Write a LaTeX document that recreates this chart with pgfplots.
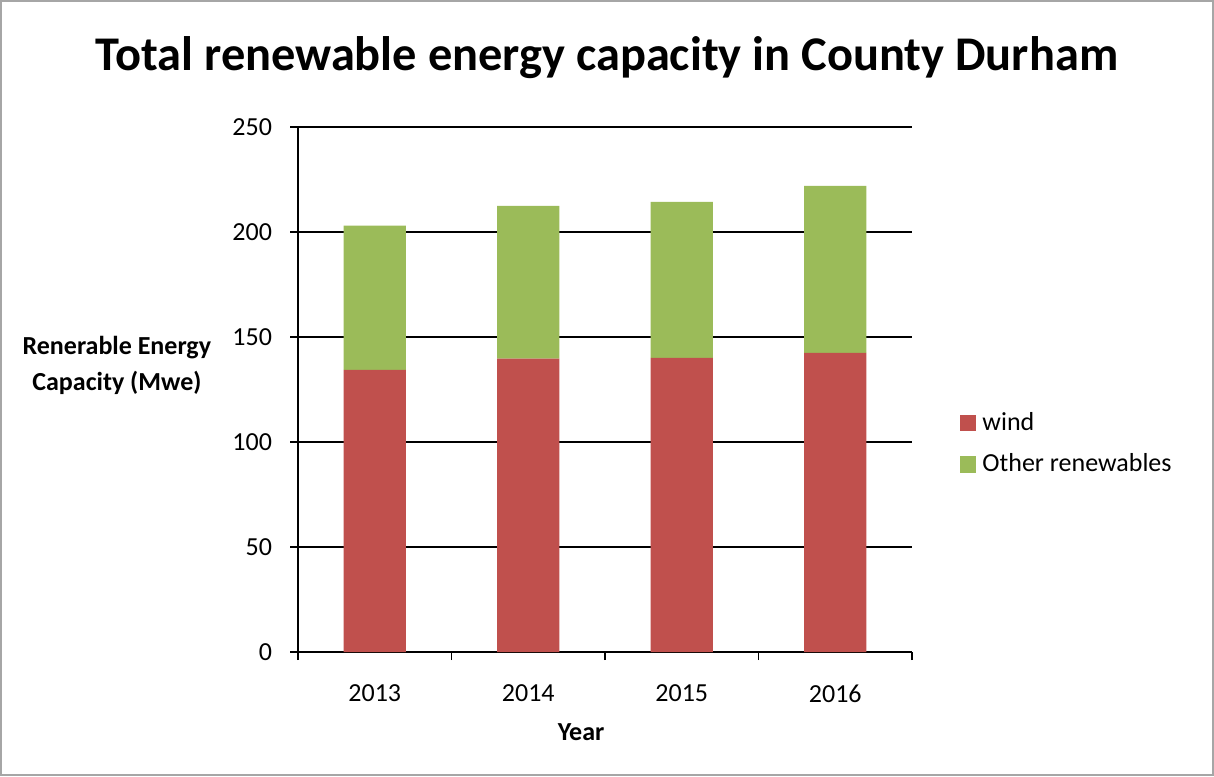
\documentclass[border=0pt]{standalone}
\usepackage{pgfplots}
\pgfplotsset{compat=1.18}
\usepackage{fontspec}
\setmainfont{Carlito}
\definecolor{windred}{HTML}{C0504D}
\definecolor{othergreen}{HTML}{9BBB59}
\begin{document}
\begin{tikzpicture}
\useasboundingbox (0,0) rectangle (607pt,388pt);
\draw[gray!70, line width=1pt] (0.5pt,0.5pt) rectangle (606.5pt,387.5pt);
\begin{axis}[
  at={(149pt,62pt)}, anchor=south west,
  scale only axis, width=307pt, height=262.5pt,
  ybar stacked, bar width=31pt,
  xmin=-0.5, xmax=3.5, ymin=0, ymax=250,
  xtick={0,1,2,3}, xticklabels={2013,2014,2015,2016},
  minor xtick={-0.5,0.5,1.5,2.5,3.5},
  ytick={0,50,100,150,200,250},
  axis x line*=bottom, axis y line*=left,
  axis line style={black, line width=0.8pt},
  tick align=outside,
  major tick length=4pt, minor tick length=4pt,
  x tick style={draw=none}, minor x tick style={draw=black, line width=0.8pt},
  y tick style={black, line width=0.8pt},
  ymajorgrids, grid style={black, line width=0.8pt},
  tick label style={font=\fontsize{13}{15}\selectfont},
  /pgf/number format/assume math mode=true,
  xticklabel style={yshift=-9pt},
  yticklabel style={xshift=-5.5pt},
  title={Total renewable energy capacity in County Durham},
  every axis title/.style={at={(axis description cs:0.503,1.133)}, anchor=center, font=\bfseries\fontsize{24.2}{28}\selectfont},
  xlabel={Year},
  every axis x label/.style={at={(axis description cs:0.461,-0.152)}, anchor=center, font=\bfseries\fontsize{13}{15}\selectfont},
  ylabel={Renerable Energy\\Capacity (Mwe)},
  every axis y label/.style={at={(axis description cs:-0.295,0.545)}, anchor=center, align=center, font=\bfseries\fontsize{13}{18}\selectfont},
  legend style={at={(axis description cs:1.077,0.397)}, anchor=west, draw=none, fill=none,
    font=\fontsize{13}{15}\selectfont, row sep=6pt, inner sep=0pt,
    nodes={inner xsep=3pt}},
  legend cell align=left,
  legend image code/.code={\fill[#1] (0pt,-4.2pt) rectangle (8.4pt,4.2pt);},
]
\addplot[fill=windred, draw=none] coordinates {(0,134.4) (1,139.7) (2,140.1) (3,142.5)};
\addplot[fill=othergreen, draw=none] coordinates {(0,68.6) (1,72.8) (2,74.3) (3,79.5)};
\legend{wind, Other renewables}
\end{axis}
\end{tikzpicture}
\end{document}
